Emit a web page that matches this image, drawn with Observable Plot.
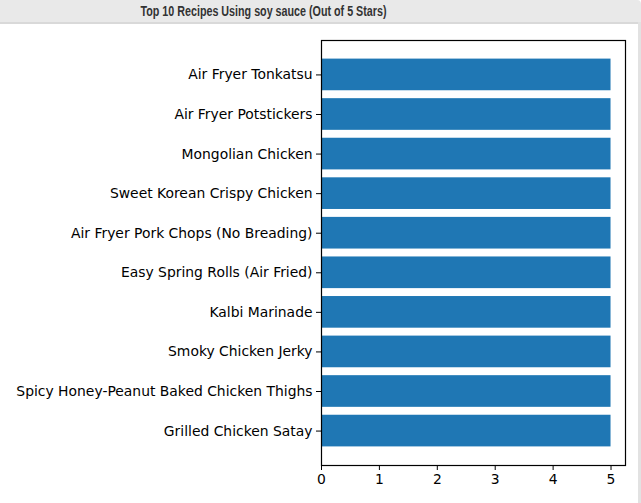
<!DOCTYPE html>
<html>
<head>
<meta charset="utf-8">
<script src="https://cdn.jsdelivr.net/npm/d3@7"></script>
<script src="https://cdn.jsdelivr.net/npm/@observablehq/plot@0.6"></script>
<style>
  html, body { margin: 0; padding: 0; background: #fff; }
  #wrap { width: 641px; height: 503px; position: relative; overflow: hidden; }
  #titlebar {
    position: absolute; left: 0; top: 0; width: 641px; height: 22px;
    background: #e9e9e9; border-bottom: 2px solid #d9d9d9;
    border-top-right-radius: 4px;
  }
  #title {
    position: absolute; top: 0; left: 0; width: 527px; height: 22px; line-height: 22px;
    text-align: center; font-family: "Liberation Sans", Arial, sans-serif;
    font-weight: bold; font-size: 14.5px; color: #333;
    transform: scaleX(0.74); transform-origin: 263.5px 50%;
  }
  #rightborder { position: absolute; left: 638px; top: 22px; width: 3px; height: 481px; background: #e2e2e2; }
  #chart { position: absolute; left: 0; top: 24px; }
</style>
</head>
<body>
<div id="wrap">
  <div id="titlebar"><div id="title">Top 10 Recipes Using soy sauce (Out of 5 Stars)</div></div>
  <div id="rightborder"></div>
  <div id="chart"></div>
</div>
<script>
const recipes = [
  "Air Fryer Tonkatsu",
  "Air Fryer Potstickers",
  "Mongolian Chicken",
  "Sweet Korean Crispy Chicken",
  "Air Fryer Pork Chops (No Breading)",
  "Easy Spring Rolls (Air Fried)",
  "Kalbi Marinade",
  "Smoky Chicken Jerky",
  "Spicy Honey-Peanut Baked Chicken Thighs",
  "Grilled Chicken Satay"
];
const ratings = [5, 5, 5, 5, 5, 5, 5, 5, 5, 5];
const xTicks = [0, 1, 2, 3, 4, 5];

const data = recipes.map((r, i) => ({recipe: r, rating: ratings[i]}));

const chart = Plot.plot({
  width: 638,
  height: 479,
  marginLeft: 321,
  marginRight: 13,
  marginTop: 16,
  marginBottom: 38,
  style: {fontFamily: "DejaVu Sans", fontSize: "13.9px", color: "#000", background: "#fff"},
  x: {domain: [0, 5.25], label: null},
  y: {domain: recipes, paddingInner: 0.2, paddingOuter: 0.47, round: false, label: null},
  marks: [
    Plot.barX(data, {x: "rating", y: "recipe", fill: "#1f77b4"}),
    Plot.frame({stroke: "#000", strokeWidth: 1.2}),
    Plot.axisX({ticks: xTicks, tickFormat: d => String(d), tickSize: 5, tickPadding: 4, stroke: "#000", fontSize: "13.9px", label: null, color: "#000"}),
    Plot.axisY({tickSize: 5, tickPadding: 4, stroke: "#000", fontSize: "13.9px", label: null})
  ]
});
document.getElementById("chart").appendChild(chart);
</script>
</body>
</html>
